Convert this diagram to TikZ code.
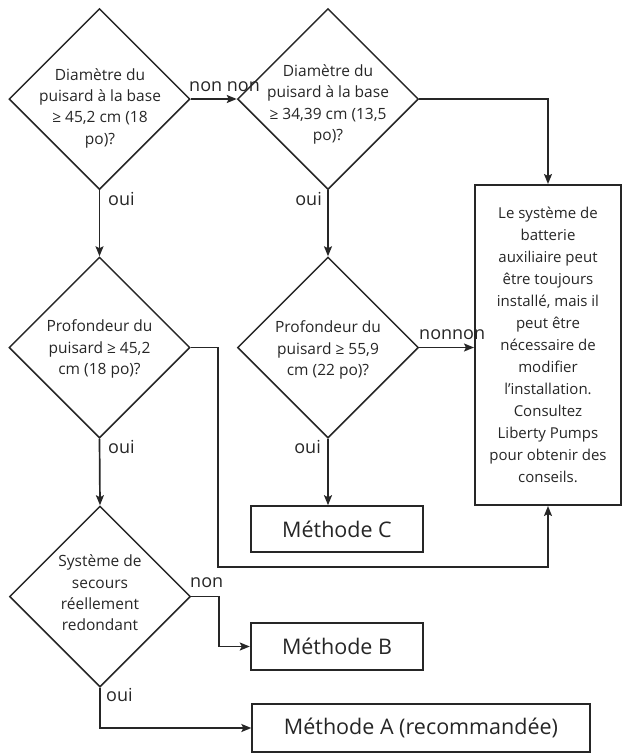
\documentclass[tikz,border=0pt]{standalone}
\usepackage{fontspec}
\setmainfont{Open Sans}
\usetikzlibrary{shapes.geometric,arrows.meta}
\definecolor{ink}{HTML}{262626}
\tikzset{
  dia/.style={draw=ink,line width=1.5pt,diamond,aspect=1,minimum width=181pt,minimum height=181pt,inner sep=0pt},
  dtext/.style={align=center,text=ink,font=\fontsize{15.5}{21.3}\selectfont,inner sep=0pt},
  bigbox/.style={draw=ink,line width=2pt,minimum width=146pt,minimum height=320pt,inner sep=0pt,align=center,text=ink,font=\fontsize{15}{22}\selectfont},
  mbox/.style={draw=ink,line width=1.6pt,minimum height=46pt,inner sep=0pt,text=ink,font=\fontsize{21.5}{26}\selectfont},
  conn/.style={draw=ink,line width=1.7pt},
  arr/.style={conn,-{Stealth[length=10pt,width=8pt,inset=2pt]}},
  lbl/.style={text=ink,font=\fontsize{18}{20}\selectfont,inner sep=0pt}
}
\begin{document}
\begin{tikzpicture}[x=1pt,y=-1pt]
\useasboundingbox (0,0) rectangle (626,753);
% diamonds
\node[dia] (d1) at (99.5,99) {};
\node[dtext] (d1t) at (100,108) {Diamètre du\\puisard à la base\\≥ 45,2 cm (18\\po)?};
\node[dia] (d2) at (328,99) {};
\node[dtext] (d2t) at (328,104.5) {Diamètre du\\puisard à la base\\≥ 34,39 cm (13,5\\po)?};
\node[dia] (d3) at (99.5,347.5) {};
\node[dtext] (d3t) at (99.5,349) {Profondeur du\\puisard ≥ 45,2\\cm (18 po)?};
\node[dia] (d4) at (328,347.5) {};
\node[dtext] (d4t) at (328,350) {Profondeur du\\puisard ≥ 55,9\\cm (22 po)?};
\node[dia] (d5) at (100,596.5) {};
\node[dtext] (d5t) at (100,593) {Système de\\secours\\réellement\\redondant};
% boxes
\node[bigbox] (box) at (548,345) {Le système de\\batterie\\auxiliaire peut\\être toujours\\installé, mais il\\peut être\\nécessaire de\\modifier\\l'installation.\\Consultez\\Liberty Pumps\\pour obtenir des\\conseils.};
\node[mbox,minimum width=172pt] (mc) at (337,529) {Méthode C};
\node[mbox,minimum width=172pt,line width=2.4pt,minimum height=47pt] (mb) at (337,646.5) {Méthode B};
\node[mbox,minimum width=338pt,line width=1.3pt,minimum height=48pt] (ma) at (421,728) {Méthode A (recommandée)};
% coordinates
\coordinate (c1) at (218,567);
% connectors
\draw[arr] (d1.east) -- (d2.west);
\draw[arr] (d2.east) -| (box.north);
\draw[arr] (d1.south) -- (d3.north);
\draw[arr] (d2.south) -- (d4.north);
\draw[arr] (d4.east) -- (d4.east -| box.west);
\draw[arr] (d4.south) -- (d4.south |- mc.north);
\draw[arr] (d3.east) -| (c1) -| (box.south);
\draw[arr] (d3.south) -- (d5.north);
\draw[arr] (d5.east) -- ++(28,0) |- (mb.west);
\draw[arr] (d5.south) |- (ma.west);
% labels
\node[lbl,anchor=west] (l1) at (189,87) {non non};
\node[lbl,anchor=west] (l2) at (108,199) {oui};
\node[lbl,anchor=east] (l3) at (322,199) {oui};
\node[lbl,anchor=west] (l4) at (419,335) {nonnon};
\node[lbl,anchor=west] (l5) at (108,447) {oui};
\node[lbl,anchor=east] (l6) at (321,447) {oui};
\node[lbl,anchor=west] (l7) at (190,583) {non};
\node[lbl,anchor=west] (l8) at (106,695) {oui};
\end{tikzpicture}
\end{document}
